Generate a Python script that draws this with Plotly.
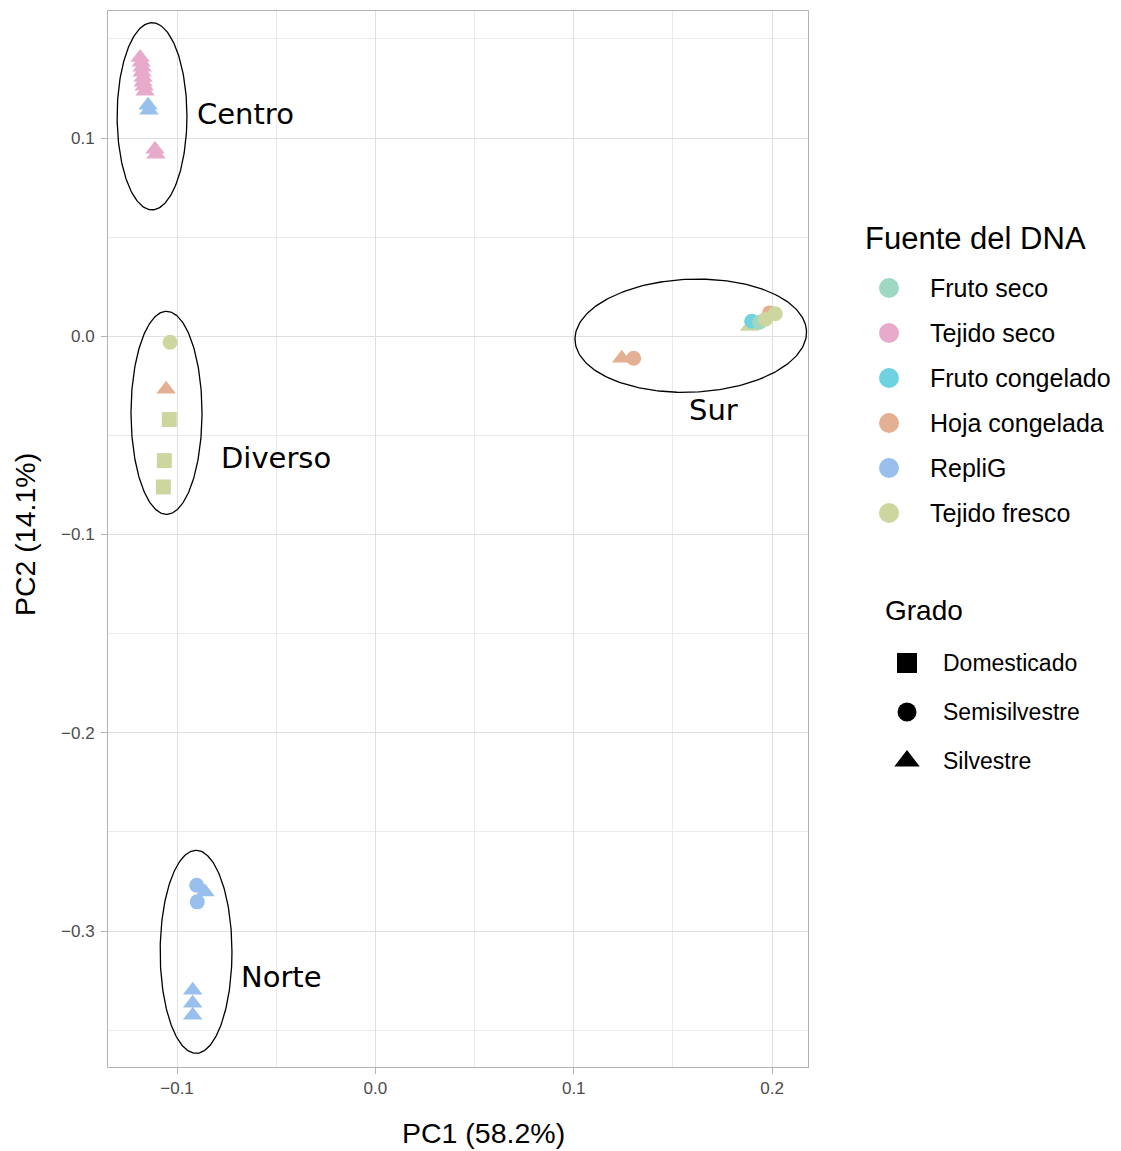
import numpy as np
import plotly.graph_objects as go

# ---- PCA scores (PC1, PC2), DNA source and domestication degree per sample ----
pc1 = [
    # Centro
    -0.1186, -0.1181, -0.1176, -0.1176, -0.1171, -0.1171, -0.1166, -0.1161,
    -0.1146, -0.1141,
    -0.1111, -0.1106,
    # Diverso
    -0.1035, -0.1055, -0.1039, -0.1064, -0.1069,
    # Sur
    0.1242, 0.1302,
    0.1887, 0.1897, 0.1937, 0.1987, 0.1967, 0.2016,
    # Norte
    -0.0859, -0.0901, -0.0898, -0.0921, -0.0921, -0.0921,
]
pc2 = [
    0.1407, 0.1382, 0.1357, 0.1332, 0.1306, 0.1281, 0.1261, 0.1236,
    0.1165, 0.1140,
    0.0943, 0.0918,
    -0.0030, -0.0267, -0.0420, -0.0627, -0.0760,
    -0.0111, -0.0111,
    0.0050, 0.0076, 0.0071, 0.0118, 0.0086, 0.0114,
    -0.2803, -0.2769, -0.2853, -0.3299, -0.3364, -0.3425,
]
fuente = [
    "Tejido seco"] * 8 + ["RepliG"] * 2 + ["Tejido seco"] * 2 + [
    "Tejido fresco", "Hoja congelada", "Tejido fresco", "Tejido fresco", "Tejido fresco",
    "Hoja congelada", "Hoja congelada",
    "Tejido fresco", "Fruto congelado", "Fruto seco", "Hoja congelada", "Tejido fresco", "Tejido fresco",
    "RepliG", "RepliG", "RepliG", "RepliG", "RepliG", "RepliG",
]
grado = [
    "Silvestre"] * 12 + [
    "Semisilvestre", "Silvestre", "Domesticado", "Domesticado", "Domesticado",
    "Silvestre", "Semisilvestre",
    "Silvestre", "Semisilvestre", "Semisilvestre", "Semisilvestre", "Semisilvestre", "Semisilvestre",
    "Silvestre", "Semisilvestre", "Semisilvestre", "Silvestre", "Silvestre", "Silvestre",
]

# ---- legend categories ----
fuentes = ["Fruto seco", "Tejido seco", "Fruto congelado", "Hoja congelada", "RepliG", "Tejido fresco"]
colores = ["#9CD9BF", "#E8AACB", "#6ED2E0", "#E4B094", "#99C0EC", "#CED6A0"]
grados = ["Domesticado", "Semisilvestre", "Silvestre"]
simbolos = ["square", "circle", "triangle-up"]
tamanos = [15, 15, 17]

# ---- cluster outlines: centre, semi-axes, rotation (deg) and label anchor ----
grupos = ["Centro", "Diverso", "Sur", "Norte"]
elip_cx = [-0.1126, -0.1053, 0.1590, -0.0904]
elip_cy = [0.1110, -0.0386, 0.0003, -0.3105]
elip_a = [0.0176, 0.0179, 0.0584, 0.0181]
elip_b = [0.0472, 0.0512, 0.0285, 0.0512]
elip_ang = [0, 0, 2.2, 0]
etiq_x = [-0.0909, -0.0788, 0.1569, -0.0688]
etiq_y = [0.1120, -0.0615, -0.0373, -0.3233]

W, H = 1121, 1151
PX0, PX1, PY0, PY1 = 108, 808, 11, 1067  # panel edges in pixels

col_map = dict(zip(fuentes, colores))
sym_map = dict(zip(grados, simbolos))
size_map = dict(zip(grados, tamanos))

fig = go.Figure()

# samples
fig.add_trace(go.Scatter(
    x=pc1, y=pc2, mode="markers",
    marker=dict(color=[col_map[f] for f in fuente],
                symbol=[sym_map[g] for g in grado],
                size=[size_map[g] for g in grado],
                opacity=1,
                line=dict(width=0)),
    showlegend=False, hoverinfo="x+y",
))

# cluster ellipses
t = np.linspace(0, 2 * np.pi, 240)
for cx, cy, a, b, ang in zip(elip_cx, elip_cy, elip_a, elip_b, elip_ang):
    th = np.deg2rad(ang)
    ex = cx + a * np.cos(t) * np.cos(th) - b * np.sin(t) * np.sin(th)
    ey = cy + a * np.cos(t) * np.sin(th) + b * np.sin(t) * np.cos(th)
    fig.add_trace(go.Scatter(x=ex, y=ey, mode="lines",
                             line=dict(color="black", width=1.3),
                             showlegend=False, hoverinfo="skip"))

for nombre, lx, ly in zip(grupos, etiq_x, etiq_y):
    fig.add_annotation(x=lx, y=ly, xref="x", yref="y", text=nombre, showarrow=False,
                       xanchor="left", yanchor="middle",
                       font=dict(family="DejaVu Sans", size=29, color="black"))

# ---- hand-built legends on a pixel-space overlay axis ----
LEG_FONT = "Liberation Sans"
fy0 = 288
for i, (f, c) in enumerate(zip(fuentes, colores)):
    yy = fy0 + 45 * i
    fig.add_trace(go.Scatter(x=[889], y=[yy], xaxis="x2", yaxis="y2", mode="markers",
                             marker=dict(color=c, size=20, symbol="circle", line=dict(width=0)),
                             showlegend=False, hoverinfo="skip"))
    fig.add_annotation(x=928, y=yy, xref="x2", yref="y2", text=f, showarrow=False,
                       xanchor="left", yanchor="middle",
                       font=dict(family=LEG_FONT, size=25, color="black"))
fig.add_annotation(x=863, y=238, xref="x2", yref="y2", text="Fuente del DNA", showarrow=False,
                   xanchor="left", yanchor="middle",
                   font=dict(family=LEG_FONT, size=31, color="black"))

gy0 = 663
leg_sizes = [20, 19, 22]
for i, (g, s, sz) in enumerate(zip(grados, simbolos, leg_sizes)):
    yy = gy0 + 49 * i
    fig.add_trace(go.Scatter(x=[907], y=[yy], xaxis="x2", yaxis="y2", mode="markers",
                             marker=dict(color="black", size=sz, symbol=s, line=dict(width=0)),
                             showlegend=False, hoverinfo="skip"))
    fig.add_annotation(x=941, y=yy, xref="x2", yref="y2", text=g, showarrow=False,
                       xanchor="left", yanchor="middle",
                       font=dict(family=LEG_FONT, size=23, color="black"))
fig.add_annotation(x=883, y=610, xref="x2", yref="y2", text="Grado", showarrow=False,
                   xanchor="left", yanchor="middle",
                   font=dict(family=LEG_FONT, size=28, color="black"))

# axis titles
fig.add_annotation(x=483, y=1133, xref="x2", yref="y2", text="PC1 (58.2%)", showarrow=False,
                   xanchor="center", yanchor="middle",
                   font=dict(family=LEG_FONT, size=28.5, color="black"))
fig.add_annotation(x=25, y=535, xref="x2", yref="y2", text="PC2 (14.1%)", showarrow=False,
                   textangle=-90, xanchor="center", yanchor="middle",
                   font=dict(family=LEG_FONT, size=28.5, color="black"))

axis_common = dict(
    showgrid=True, gridcolor="#E0E0E0", gridwidth=1,
    zeroline=False, showline=True, linecolor="#B3B3B3", linewidth=1, mirror=True,
    ticks="outside", ticklen=6, tickcolor="#B3B3B3", tickwidth=1,
    tickfont=dict(family=LEG_FONT, size=17, color="#4D4D4D"),
    dtick=0.1, tick0=0, tickformat=".1f",
    minor=dict(dtick=0.05, tick0=0, showgrid=True, gridcolor="#EBEBEB", gridwidth=1),
    fixedrange=True,
)

fig.update_layout(
    width=W, height=H,
    margin=dict(l=0, r=0, t=0, b=0),
    paper_bgcolor="white", plot_bgcolor="rgba(0,0,0,0)",
    showlegend=False,
    xaxis=dict(domain=[PX0 / W, PX1 / W], range=[-0.1348, 0.2181], anchor="y", **axis_common),
    yaxis=dict(domain=[1 - PY1 / H, 1 - PY0 / H], range=[-0.3686, 0.1641], anchor="x",
               ticklabelstandoff=3, **axis_common),
    xaxis2=dict(domain=[0, 1], range=[0, W], anchor="y2", visible=False, fixedrange=True),
    yaxis2=dict(domain=[0, 1], range=[H, 0], anchor="x2", visible=False, fixedrange=True),
)

fig.write_html("out.html")
